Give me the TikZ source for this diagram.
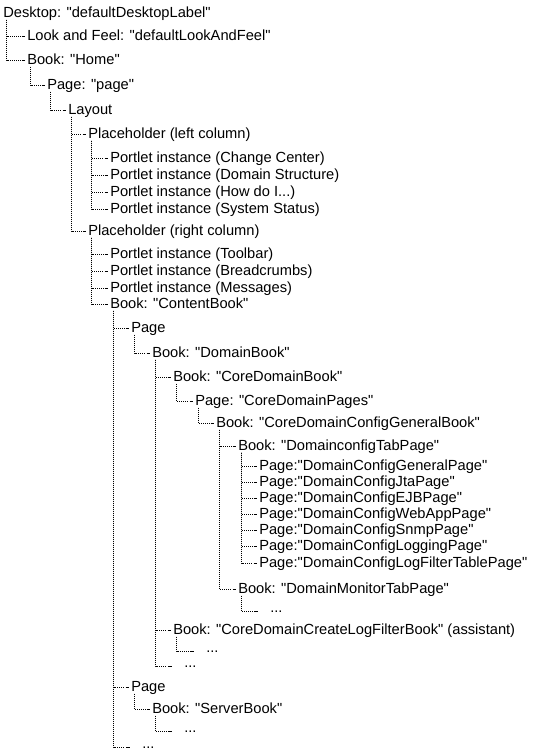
\documentclass[tikz,border=0pt]{standalone}
\usepackage{fontspec}
\setmainfont{Liberation Sans}[Ligatures=TeXOff]
\usetikzlibrary{calc}
\tikzset{
  lbl/.style={anchor=base west, inner sep=0pt, font=\fontsize{11pt}{13pt}\selectfont},
  dl/.style={line width=0.75pt, dash pattern=on 0.75pt off 0.75pt, black},
  hy/.style={line width=0.75pt, black},
}
\newcommand\tconn[2]{%
  \draw[dl] ($(#1.base west)+(3.5,2.5)$) |- ($(#2.base west)+(-6,-4)$);
  \draw[hy] ($(#2.base west)+(-5.5,-4)$) -- ($(#2.base west)+(-2,-4)$);}
\newcommand\lconn[2]{%
  \draw[dl] ($(#1.base west)+(3.5,2.5)$) |- ($(#2.base west)+(-17,-1)$);
  \draw[hy] ($(#2.base west)+(-16,-1)$) -- ($(#2.base west)+(-12,-1)$);}
\begin{document}
\begin{tikzpicture}[x=0.75pt,y=-0.75pt]
\useasboundingbox (0,0) rectangle (550,750);
\node[lbl] (desk) at (3,17) {Desktop: "defaultDesktopLabel"};
\node[lbl] (laf) at (27,40) {Look and Feel: "defaultLookAndFeel"};
\node[lbl] (home) at (27,64) {Book: "Home"};
\node[lbl] (page) at (47,89) {Page: "page"};
\node[lbl] (layout) at (68,114) {Layout};
\node[lbl] (phl) at (88,138) {Placeholder (left column)};
\node[lbl] (p1) at (110,162) {Portlet instance (Change Center)};
\node[lbl] (p2) at (110,179) {Portlet instance (Domain Structure)};
\node[lbl] (p3) at (110,196) {Portlet instance (How do I...)};
\node[lbl] (p4) at (110,213) {Portlet instance (System Status)};
\node[lbl] (phr) at (88,235) {Placeholder (right column)};
\node[lbl] (p5) at (110,258) {Portlet instance (Toolbar)};
\node[lbl] (p6) at (110,275) {Portlet instance (Breadcrumbs)};
\node[lbl] (p7) at (110,292) {Portlet instance (Messages)};
\node[lbl] (cb) at (110,308) {Book: "ContentBook"};
\node[lbl] (pg1) at (131,332) {Page};
\node[lbl] (db) at (152,357) {Book: "DomainBook"};
\node[lbl] (cdb) at (173,381) {Book: "CoreDomainBook"};
\node[lbl] (cdp) at (195,405) {Page: "CoreDomainPages"};
\node[lbl] (cdcgb) at (216,427) {Book: "CoreDomainConfigGeneralBook"};
\node[lbl] (dtp) at (238,450) {Book: "DomainconfigTabPage"};
\node[lbl] (q1) at (259,470) {Page:"DomainConfigGeneralPage"};
\node[lbl] (q2) at (259,486) {Page:"DomainConfigJtaPage"};
\node[lbl] (q3) at (259,502) {Page:"DomainConfigEJBPage"};
\node[lbl] (q4) at (259,518) {Page:"DomainConfigWebAppPage"};
\node[lbl] (q5) at (259,534) {Page:"DomainConfigSnmpPage"};
\node[lbl] (q6) at (259,550) {Page:"DomainConfigLoggingPage"};
\node[lbl] (q7) at (259,567) {Page:"DomainConfigLogFilterTablePage"};
\node[lbl] (dmtp) at (238,593) {Book: "DomainMonitorTabPage"};
\node[lbl] (e1) at (270,612) {...};
\node[lbl] (cdclfb) at (173,634) {Book: "CoreDomainCreateLogFilterBook" (assistant)};
\node[lbl] (e2) at (206,652) {...};
\node[lbl] (e3) at (184,667) {...};
\node[lbl] (pg2) at (131,691) {Page};
\node[lbl] (sb) at (152,713) {Book: "ServerBook"};
\node[lbl] (e4) at (184,732) {...};
\node[lbl] (e5) at (142,748) {...};
\tconn{desk}{laf}
\tconn{desk}{home}
\tconn{home}{page}
\tconn{page}{layout}
\tconn{layout}{phl}
\tconn{layout}{phr}
\tconn{phl}{p1}
\tconn{phl}{p2}
\tconn{phl}{p3}
\tconn{phl}{p4}
\tconn{phr}{p5}
\tconn{phr}{p6}
\tconn{phr}{p7}
\tconn{phr}{cb}
\tconn{cb}{pg1}
\tconn{cb}{pg2}
\lconn{cb}{e5}
\tconn{pg1}{db}
\tconn{db}{cdb}
\tconn{db}{cdclfb}
\lconn{db}{e3}
\tconn{cdb}{cdp}
\tconn{cdp}{cdcgb}
\tconn{cdcgb}{dtp}
\tconn{cdcgb}{dmtp}
\tconn{dtp}{q1}
\tconn{dtp}{q2}
\tconn{dtp}{q3}
\tconn{dtp}{q4}
\tconn{dtp}{q5}
\tconn{dtp}{q6}
\tconn{dtp}{q7}
\lconn{dmtp}{e1}
\lconn{cdclfb}{e2}
\tconn{pg2}{sb}
\lconn{sb}{e4}
\end{tikzpicture}
\end{document}
